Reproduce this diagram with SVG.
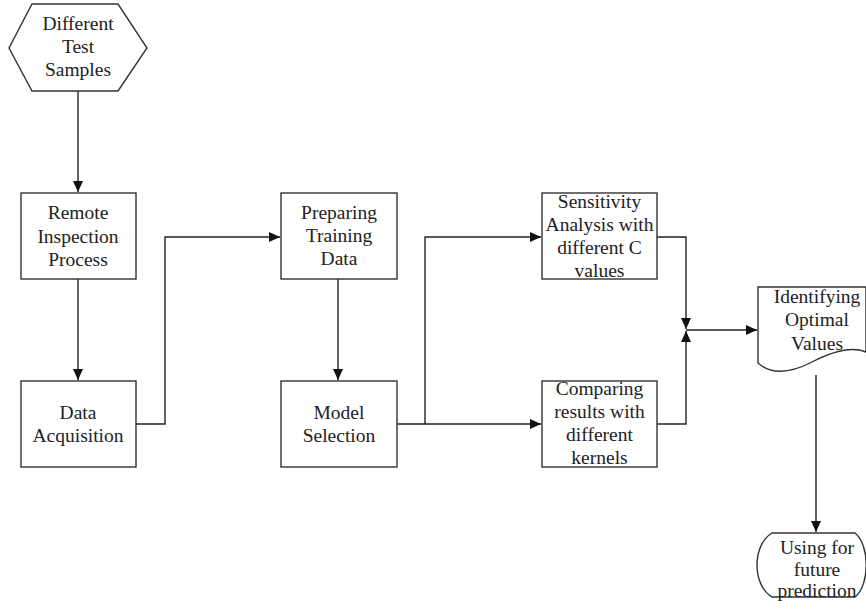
<svg xmlns="http://www.w3.org/2000/svg" width="866" height="609" viewBox="0 0 866 609">
<style>
.box{fill:#fff;stroke:#333;stroke-width:1.4}
.lbl{font-family:'Liberation Serif','Times New Roman',serif;font-size:19.5px;fill:#222;text-anchor:middle}
.wire{fill:none;stroke:#222;stroke-width:1.4}
</style>
<defs>
<marker id="a" markerUnits="userSpaceOnUse" markerWidth="12" markerHeight="10" refX="11" refY="5" orient="auto">
<path d="M0,0 L11,5 L0,10 Z" fill="#111"/>
</marker>
</defs>
<rect width="866" height="609" fill="#fff"/>
<g id="connectors">
<path class="wire" d="M78,91 V192" marker-end="url(#a)"/>
<path class="wire" d="M78,279 V380" marker-end="url(#a)"/>
<path class="wire" d="M136,424 H165 V237 H280" marker-end="url(#a)"/>
<path class="wire" d="M338,279 V380" marker-end="url(#a)"/>
<path class="wire" d="M397,424 H425 V237 H541" marker-end="url(#a)"/>
<path class="wire" d="M425,424 H541" marker-end="url(#a)"/>
<path class="wire" d="M657,237 H686 V329" marker-end="url(#a)"/>
<path class="wire" d="M657,424 H686 V331" marker-end="url(#a)"/>
<path class="wire" d="M686,330 H757" marker-end="url(#a)"/>
<path class="wire" d="M816,375 V532" marker-end="url(#a)"/>
</g>
<g id="samples">
<path class="box" d="M32,4 H118 L147,48 L118,91 H32 L9,48 Z"/>
<text class="lbl" x="78" y="30">Different</text>
<text class="lbl" x="78" y="53">Test</text>
<text class="lbl" x="78" y="76">Samples</text>
</g>
<g id="remote">
<rect class="box" x="21" y="193" width="115" height="86"/>
<text class="lbl" x="78" y="219">Remote</text>
<text class="lbl" x="78" y="242.5">Inspection</text>
<text class="lbl" x="78" y="266">Process</text>
</g>
<g id="acquisition">
<rect class="box" x="21" y="381" width="115" height="86"/>
<text class="lbl" x="78" y="419">Data</text>
<text class="lbl" x="78" y="442">Acquisition</text>
</g>
<g id="preparing">
<rect class="box" x="281" y="193" width="116" height="86"/>
<text class="lbl" x="339" y="219">Preparing</text>
<text class="lbl" x="339" y="242">Training</text>
<text class="lbl" x="339" y="265">Data</text>
</g>
<g id="model">
<rect class="box" x="281" y="381" width="116" height="86"/>
<text class="lbl" x="339" y="419">Model</text>
<text class="lbl" x="339" y="442">Selection</text>
</g>
<g id="sensitivity">
<rect class="box" x="542" y="193" width="115" height="86"/>
<text class="lbl" x="599.5" y="208">Sensitivity</text>
<text class="lbl" x="599.5" y="231">Analysis with</text>
<text class="lbl" x="599.5" y="254">different C</text>
<text class="lbl" x="599.5" y="277">values</text>
</g>
<g id="comparing">
<rect class="box" x="542" y="381" width="115" height="86"/>
<text class="lbl" x="599.5" y="395">Comparing</text>
<text class="lbl" x="599.5" y="418">results with</text>
<text class="lbl" x="599.5" y="441">different</text>
<text class="lbl" x="599.5" y="464">kernels</text>
</g>
<g id="optimal">
<path class="box" d="M758,287 H866 V352 Q847,344 812,362 Q777,380 758,363 Z"/>
<text class="lbl" x="817" y="303">Identifying</text>
<text class="lbl" x="817" y="326">Optimal</text>
<text class="lbl" x="817" y="350">Values</text>
</g>
<g id="prediction">
<path class="box" d="M772,533 H855 C870,545 870,585 855,597 H772 C752,585 752,545 772,533 Z"/>
<text class="lbl" x="817" y="554">Using for</text>
<text class="lbl" x="817" y="576">future</text>
<text class="lbl" x="817" y="597">prediction</text>
</g>
</svg>
